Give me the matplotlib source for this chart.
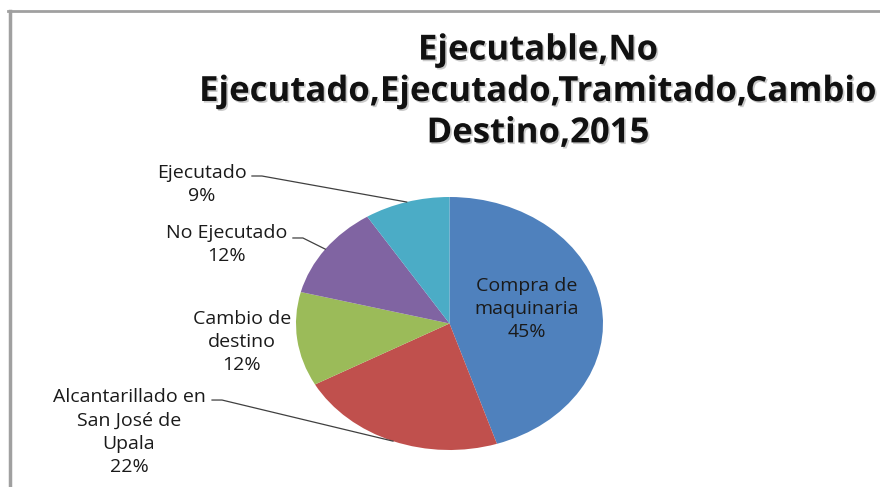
import numpy as np
import matplotlib.pyplot as plt
import matplotlib.patheffects as pe
from matplotlib.lines import Line2D

plt.rcParams['font.family'] = ['Open Sans', 'DejaVu Sans']

# Datos del gráfico
categorias = ['Compra de\nmaquinaria', 'Alcantarillado en\nSan José de\nUpala',
              'Cambio de\ndestino', 'No Ejecutado', 'Ejecutado']
valores = [45, 22, 12, 12, 9]
colores = ['#4F81BD', '#C0504D', '#9BBB59', '#8064A2', '#4BACC6']
titulo = 'Ejecutable,No\nEjecutado,Ejecutado,Tramitado,Cambio\nDestino,2015'

# posiciones de las etiquetas (centro del bloque) y si llevan línea guía
pos_etiquetas = [(0.505, 0.115), (-2.088, -0.858), (-1.352, -0.146), (-1.450, 0.628), (-1.612, 1.099)]
inicio_linea = [None, (-1.547, -0.605), None, (-1.020, 0.676), (-1.287, 1.166)]

fig = plt.figure(figsize=(8.8, 4.87), dpi=100)
ax = fig.add_axes([296 / 880, 37 / 487, 307 / 880, 253 / 487])

wedges, _ = ax.pie(valores, colors=colores, startangle=90, counterclock=False,
                   radius=1, wedgeprops=dict(linewidth=0))
ax.set_aspect('auto')
ax.set_xlim(-1, 1)
ax.set_ylim(-1, 1)
ax.axis('off')

for w, cat, val, pos, ini in zip(wedges, categorias, valores, pos_etiquetas, inicio_linea):
    ax.text(pos[0], pos[1], f'{cat}\n{val}%', ha='center', va='center',
            fontsize=14, color='#1a1a1a', linespacing=1.36, clip_on=False)
    if ini is not None:
        ang = np.deg2rad((w.theta1 + w.theta2) / 2)
        fin = (np.cos(ang), np.sin(ang))
        codo = (ini[0] + 0.065, ini[1])
        ax.plot([ini[0], codo[0], fin[0]], [ini[1], codo[1], fin[1]],
                color='#404040', linewidth=0.9, clip_on=False)

fig.text(538 / 880, 1 - 92 / 487, titulo, ha='center', va='center',
         fontsize=25, fontweight='bold', color='#111111', linespacing=1.2,
         path_effects=[pe.withSimplePatchShadow(offset=(1.2, -1.2), shadow_rgbFace='#999999', alpha=0.5)])

# borde
fig.add_artist(Line2D([8 / 880, 1], [1 - 11 / 487, 1 - 11 / 487], transform=fig.transFigure,
                      color='#a0a0a0', linewidth=2))
fig.add_artist(Line2D([9.5 / 880, 9.5 / 880], [0, 1 - 11 / 487], transform=fig.transFigure,
                      color='#a0a0a0', linewidth=2.5))

fig.savefig('out.png', dpi=100)
